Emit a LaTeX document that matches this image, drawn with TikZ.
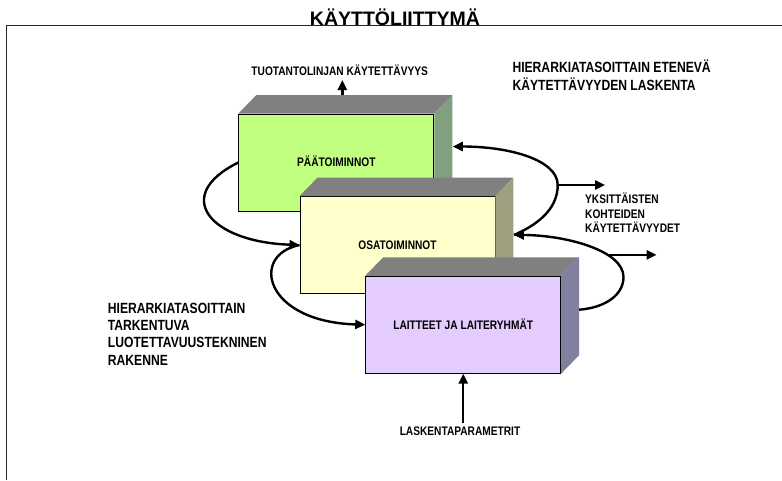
\documentclass[tikz,border=0pt]{standalone}
\usepackage{fontspec}
\setmainfont{Liberation Sans}[FakeStretch=0.82]
\newfontfamily\headfont{Liberation Sans}
\usetikzlibrary{arrows.meta,calc}

\definecolor{topgray}{HTML}{808080}
\definecolor{frontA}{HTML}{C0FF80}
\definecolor{sideA}{HTML}{80A080}
\definecolor{frontB}{HTML}{FFFFCC}
\definecolor{sideB}{HTML}{A0A080}
\definecolor{frontC}{HTML}{E5CCFF}
\definecolor{sideC}{HTML}{8080A0}

\begin{document}
\begin{tikzpicture}[x=1pt,y=-1pt,
  front/.style={draw=black, line width=0.9pt, minimum width=195pt, minimum height=97pt,
    inner sep=0pt, text height=8.9pt, text depth=0pt,
    font=\bfseries\fontsize{12.4}{14.6}\selectfont},
  flow/.style={line width=2.4pt, -{Triangle[length=10pt,width=9pt]}},
  smalltext/.style={font=\bfseries\fontsize{12.4}{14.7}\selectfont, align=left, inner sep=0pt},
  bigtext/.style={font=\bfseries\fontsize{14.8}{17.2}\selectfont, align=left, inner sep=0pt},
  topface/.style={fill=topgray},
]
\useasboundingbox (0,0) rectangle (782,480);

% outer frame (top and left edges)
\draw[line width=1pt, black!85] (6,480) -- (6,25) -- (782,25);

% title
\node[anchor=base, inner sep=0pt, font=\headfont\bfseries\fontsize{19.5}{22}\selectfont]
  (title) at (395,25.5) {KÄYTTÖLIITTYMÄ};

% level 1 block
\node[front, fill=frontA] (b1) at (336.3,162.5) {PÄÄTOIMINNOT};
\fill[topface] (b1.north west) -- ++(18,-18.5) -- ($(b1.north east)+(18,-18.5)$) -- (b1.north east) -- cycle;
\fill[sideA] (b1.north east) -- ++(18,-18.5) -- ($(b1.south east)+(18,-18.5)$) -- (b1.south east) -- cycle;

% level 2 block
\node[front, fill=frontB] (b2) at (397.5,245) {OSATOIMINNOT};
\fill[topface] (b2.north west) -- ++(18,-18.5) -- ($(b2.north east)+(18,-18.5)$) -- (b2.north east) -- cycle;
\fill[sideB] (b2.north east) -- ++(18,-18.5) -- ($(b2.south east)+(18,-18.5)$) -- (b2.south east) -- cycle;

% level 3 block
\node[front, fill=frontC] (b3) at (463.2,324.7) {LAITTEET JA LAITERYHMÄT};
\fill[topface] (b3.north west) -- ++(18,-18.5) -- ($(b3.north east)+(18,-18.5)$) -- (b3.north east) -- cycle;
\fill[sideC] (b3.north east) -- ++(18,-18.5) -- ($(b3.south east)+(18,-18.5)$) -- (b3.south east) -- cycle;

% texts (multi-line nodes are anchored at the baseline of their last line)
\node[smalltext, anchor=base] (tuot) at (339.7,75) {TUOTANTOLINJAN KÄYTETTÄVYYS};
\node[bigtext, anchor=base west] (laskenta) at (512.3,90) {HIERARKIATASOITTAIN ETENEVÄ\\KÄYTETTÄVYYDEN LASKENTA};
\node[smalltext, anchor=base west] (yks) at (585,232.7) {YKSITTÄISTEN\\KOHTEIDEN\\KÄYTETTÄVYYDET};
\node[bigtext, anchor=base west] (rakenne) at (107.7,365) {HIERARKIATASOITTAIN\\TARKENTUVA\\LUOTETTAVUUSTEKNINEN\\RAKENNE};
\node[smalltext, anchor=base, inner ysep=3pt] (param) at (460,435) {LASKENTAPARAMETRIT};

% attachment points on the block faces
\coordinate (b1top) at ($(b1.north)+(6,-18.5)$);
\coordinate (b1side) at ($(b1.east)+(18.5,-16)$);
\coordinate (b2side) at ($(b2.east)+(18.5,-10)$);
\coordinate (b3side) at ($(b3.east)+(18,-15)$);
\coordinate (r1) at (557.7,185);
\coordinate (r2) at (623.5,277);
\coordinate (tip1) at (605,185);
\coordinate (tip2) at (656.7,255);

% vertical inputs and outputs
\draw[flow] (b1top) -- (b1top |- 0,80);
\draw[flow] (b3.south |- param.north) -- (b3.south);

% refinement downwards (left side)
\draw[flow] (b1.west) .. controls +(-67,33) and +(-90,-3) .. (b2.west);
\draw[flow] (b2.west) .. controls +(-50,10) and +(-101,-3) .. (b3.west);

% availability upwards (right side)
\draw[flow] (b2side) .. controls +(30,-13) and +(0,20) .. (r1)
  .. controls +(0,-25) and +(57,0) .. (b1side);
\draw[flow] (b3side) .. controls +(26,-2) and +(0,18) .. (r2)
  .. controls +(0,-27) and +(50,0) .. coordinate[pos=0.32] (q2) (b2side);
\draw[flow] (r1) -- (tip1);
\draw[flow] (q2) -- (q2 -| tip2);
\end{tikzpicture}
\end{document}
